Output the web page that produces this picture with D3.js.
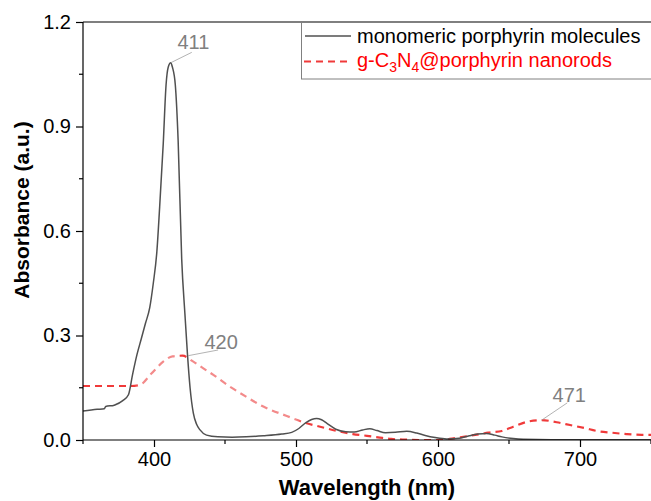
<!DOCTYPE html>
<html><head><meta charset="utf-8">
<script src="https://cdn.jsdelivr.net/npm/d3@7"></script>
<style>body{margin:0;background:#fff}svg{display:block;font-family:"Liberation Sans",Arial,sans-serif}</style>
</head><body><svg id="c" width="651" height="501"></svg>
<script>
// Monomeric porphyrin molecules: wavelength (nm), absorbance
const monoWavelength = [350,360,365,366,372,378,382,385,388,391,394,397,399.5,402,404,406.5,408.5,410,411.8,413,415,417,419.5,421.8,423.5,425.4,427.7,430,432.4,437,445,455,465,477,490,497,502,507,511,514.5,518,522,528,535,541,547,552,557,563,570,578,585,591,598,606,615,622,628,634,640,645,653,660,680,750];
const monoAbs = [0.083,0.088,0.09,0.096,0.1,0.113,0.13,0.19,0.245,0.29,0.335,0.38,0.45,0.54,0.67,0.85,1.02,1.07,1.083,1.07,1.02,0.86,0.52,0.36,0.25,0.15,0.077,0.045,0.029,0.014,0.009,0.008,0.009,0.012,0.017,0.022,0.033,0.05,0.059,0.062,0.058,0.047,0.031,0.024,0.023,0.029,0.032,0.027,0.021,0.022,0.025,0.02,0.013,0.007,0.003,0.005,0.012,0.017,0.019,0.014,0.009,0.004,0.002,0.001,0.001];
// g-C3N4@porphyrin nanorods
const rodWavelength = [350,383,390,398,406.5,413,420,427.7,435,441.8,453.5,465,477,493.5,507.5,517,528.7,540,550,559,567,578,588,598,608,619,629.6,635.4,645,653,663.6,673,683.6,693,703.5,711.8,722.3,732.9,743.5,750];
const rodAbs = [0.155,0.155,0.158,0.19,0.225,0.24,0.242,0.225,0.205,0.187,0.153,0.124,0.096,0.069,0.048,0.038,0.026,0.017,0.012,0.007,0.003,0.001,0,0,0.003,0.01,0.017,0.021,0.026,0.038,0.053,0.057,0.051,0.043,0.034,0.026,0.021,0.017,0.015,0.015];
const xTicks = [400,500,600,700];
const xMinor = [350,450,550,650,750];
const yTicks = [0,0.3,0.6,0.9,1.2];
const yMinor = [0.15,0.45,0.75,1.05];
const annotLabels = ["411","420","471"];
const annotX = [411.8,424,673];
const annotY = [1.083,0.242,0.057];
const seriesNames = ["monomeric porphyrin molecules","g-C3N4@porphyrin nanorods"];

const svg = d3.select("#c");
const L=83,R=651,T=22,B=440;
const x = d3.scaleLinear().domain([350,750]).range([L,R]);
const y = d3.scaleLinear().domain([0,1.2]).range([B,T]);
const font = '"Liberation Sans",Arial,sans-serif';

// gradient for dashed red line (lighter middle section)
const defs = svg.append("defs");
const g = defs.append("linearGradient").attr("id","rg").attr("gradientUnits","userSpaceOnUse")
  .attr("x1",x(350)).attr("x2",x(750)).attr("y1",0).attr("y2",0);
const stops=[[350,"#f03a3a"],[386,"#f03a3a"],[392,"#f38a8a"],[415,"#f38a8a"],[418,"#f03a3a"],[422,"#f03a3a"],[426,"#f38a8a"],[500,"#f38a8a"],[506,"#f03a3a"],[750,"#f03a3a"]];
stops.forEach(s=>g.append("stop").attr("offset",(s[0]-350)/400).attr("stop-color",s[1]));

const line = d3.line().x(d=>x(d[0])).y(d=>y(d[1])).curve(d3.curveMonotoneX);
const clip = defs.append("clipPath").attr("id","pc");
clip.append("rect").attr("x",L).attr("y",T-5).attr("width",R-L).attr("height",B-T+5);

const plot = svg.append("g").attr("clip-path","url(#pc)");
plot.append("path").datum(d3.zip(rodWavelength,rodAbs)).attr("d",line)
  .attr("fill","none").attr("stroke","url(#rg)").attr("stroke-width",2.2).attr("stroke-dasharray","7,5");
plot.append("path").datum(d3.zip(monoWavelength,monoAbs)).attr("d",line)
  .attr("fill","none").attr("stroke","#505050").attr("stroke-width",1.5);

// axes
const xAxis = d3.axisBottom(x).tickValues(xTicks).tickSize(7).tickPadding(5).tickFormat(d3.format("d"));
const xa = svg.append("g").attr("transform",`translate(0,${B})`).call(xAxis);
xa.select(".domain").attr("d",`M${L},0H${R}`);
xMinor.forEach(v=>xa.append("line").attr("x1",x(v)).attr("x2",x(v)).attr("y1",0).attr("y2",4).attr("stroke","#000"));
const yAxis = d3.axisLeft(y).tickValues(yTicks).tickSize(7).tickPadding(5).tickFormat(d3.format(".1f"));
const ya = svg.append("g").attr("transform",`translate(${L},0)`).call(yAxis);
ya.select(".domain").attr("d",`M0,${T}V${B}`);
yMinor.forEach(v=>ya.append("line").attr("x1",0).attr("x2",-4).attr("y1",y(v)).attr("y2",y(v)).attr("stroke","#000"));
[xa,ya].forEach(a=>{a.selectAll("text").attr("font-size",20).attr("font-family",font).attr("fill","#000");
  a.selectAll("line,path").attr("stroke","#000").attr("stroke-width",1.2);});
// top frame line
svg.append("line").attr("x1",L).attr("x2",R).attr("y1",T).attr("y2",T).attr("stroke","#000").attr("stroke-width",1.2);

// axis titles
svg.append("text").attr("x",(L+R)/2).attr("y",495).attr("text-anchor","middle")
  .attr("font-size",22).attr("font-weight","bold").attr("font-family",font).text("Wavelength (nm)");
svg.append("text").attr("transform","translate(29,210) rotate(-90)").attr("text-anchor","middle")
  .attr("font-size",21).attr("font-weight","bold").attr("font-family",font).text("Absorbance (a.u.)");

// annotations
const leader=[[21,-10.4],[30,-5.7],[25.6,-17.3]];
const txt=[[22.6,-13.4],[33,-6.7],[27.6,-17.7]];
annotLabels.forEach((lab,i)=>{
  const px=x(annotX[i]), py=y(annotY[i]);
  svg.append("line").attr("x1",px).attr("y1",py).attr("x2",px+leader[i][0]).attr("y2",py+leader[i][1])
    .attr("stroke","#a0a0a0").attr("stroke-width",0.8);
  svg.append("text").attr("x",px+txt[i][0]).attr("y",py+txt[i][1]).attr("text-anchor","middle")
    .attr("font-size",20).attr("font-family",font).attr("fill","#808080").text(lab);
});

// legend
const lg = svg.append("g");
lg.append("rect").attr("x",301.5).attr("y",22.5).attr("width",400).attr("height",56.5)
  .attr("fill","#fff").attr("stroke","#808080").attr("stroke-width",1);
lg.append("line").attr("x1",305).attr("x2",351).attr("y1",36).attr("y2",36).attr("stroke","#505050").attr("stroke-width",1.5);
lg.append("text").attr("x",357).attr("y",43).attr("font-size",20).attr("font-family",font).attr("fill","#000").text(seriesNames[0]);
lg.append("line").attr("x1",304).attr("x2",352).attr("y1",61.5).attr("y2",61.5).attr("stroke","#f03a3a").attr("stroke-width",2.2).attr("stroke-dasharray","7,5");
const t2 = lg.append("text").attr("x",357).attr("y",67).attr("font-size",20).attr("font-family",font).attr("fill","#ff0000");
const m = seriesNames[1].match(/^(g-C)(3)(N)(4)(.*)$/);
t2.append("tspan").text(m[1]);
t2.append("tspan").attr("font-size",14).attr("dy",5).text(m[2]);
t2.append("tspan").attr("dy",-5).text(m[3]);
t2.append("tspan").attr("font-size",14).attr("dy",5).text(m[4]);
t2.append("tspan").attr("dy",-5).text(m[5]);
</script></body></html>
